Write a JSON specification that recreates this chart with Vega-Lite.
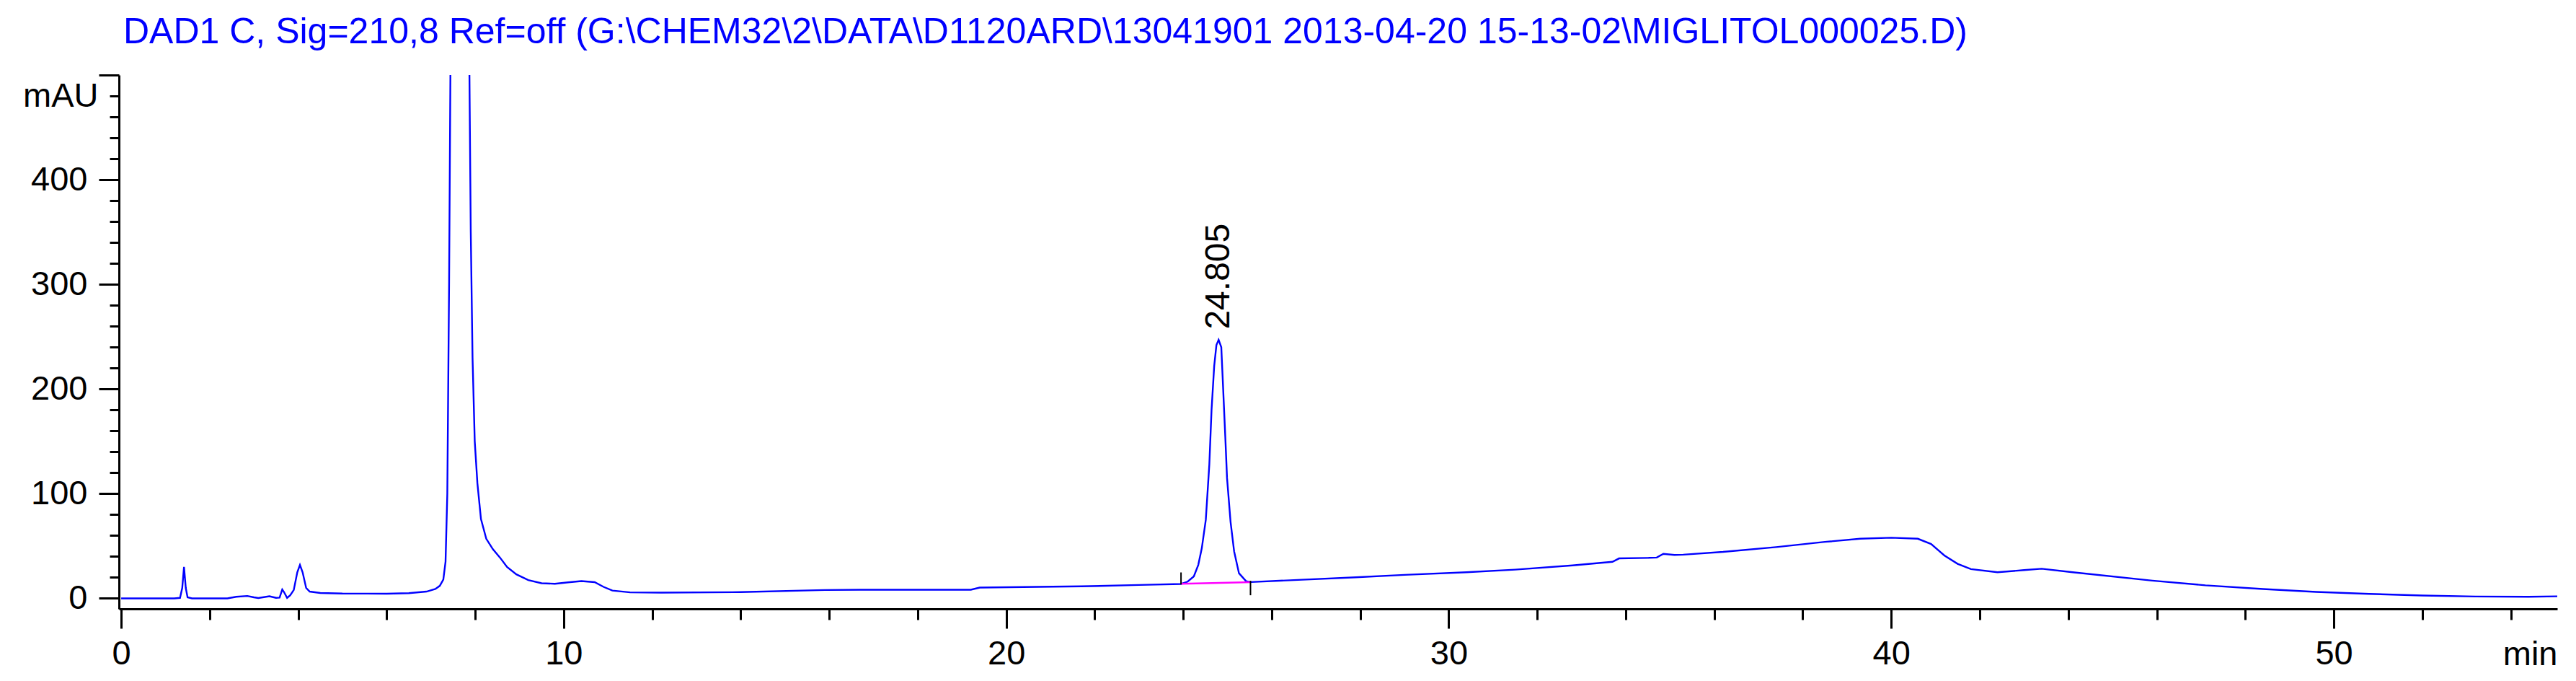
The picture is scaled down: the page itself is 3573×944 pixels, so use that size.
{
  "$schema": "https://vega.github.io/schema/vega-lite/v6.json",
  "width": 3382,
  "height": 740,
  "autosize": {"type": "none"},
  "padding": {"left": 165, "top": 104, "right": 26, "bottom": 100},
  "background": "white",
  "config": {"view": {"stroke": null}, "font": "Liberation Sans"},
  "title": {
    "text": "DAD1 C, Sig=210,8 Ref=off (G:\\CHEM32\\2\\DATA\\D1120ARD\\13041901 2013-04-20 15-13-02\\MIGLITOL000025.D)",
    "anchor": "start", "frame": "group", "dx": 6, "offset": 38, "dy": 68, "baseline": "alphabetic",
    "color": "#0000ff", "fontSize": 50, "fontWeight": "normal", "font": "Liberation Sans"
  },
  "datasets": {
    "trace": [
      {"t":0,"v":0},{"t":1.2,"v":0},{"t":1.33,"v":0.5},{"t":1.38,"v":10},{"t":1.42,"v":30},{"t":1.46,"v":10},{"t":1.5,"v":1},{"t":1.6,"v":0},
      {"t":2.4,"v":0},{"t":2.6,"v":1.5},{"t":2.85,"v":2.3},{"t":3.0,"v":1},{"t":3.1,"v":0.3},{"t":3.35,"v":2},{"t":3.5,"v":0.5},{"t":3.58,"v":0.8},
      {"t":3.64,"v":8.5},{"t":3.68,"v":6},{"t":3.75,"v":0.5},{"t":3.82,"v":3},{"t":3.9,"v":8},{"t":3.98,"v":25},{"t":4.04,"v":32},{"t":4.1,"v":25},
      {"t":4.18,"v":10},{"t":4.26,"v":6.5},{"t":4.5,"v":5.2},{"t":5.0,"v":4.6},{"t":6.0,"v":4.5},{"t":6.5,"v":5},{"t":6.9,"v":6.5},{"t":7.1,"v":9},
      {"t":7.2,"v":12},{"t":7.28,"v":18},{"t":7.33,"v":35},{"t":7.37,"v":100},{"t":7.41,"v":300},{"t":7.44,"v":500},{"t":7.48,"v":900},{"t":7.56,"v":1400},
      {"t":7.64,"v":1500},{"t":7.73,"v":1300},{"t":7.82,"v":800},{"t":7.87,"v":500},{"t":7.9,"v":350},{"t":7.94,"v":230},{"t":7.99,"v":150},{"t":8.05,"v":110},
      {"t":8.13,"v":76},{"t":8.25,"v":57},{"t":8.4,"v":47},{"t":8.56,"v":39},{"t":8.72,"v":30},{"t":8.93,"v":23},{"t":9.2,"v":17.5},{"t":9.5,"v":14.5},
      {"t":9.8,"v":14},{"t":10.1,"v":15.3},{"t":10.4,"v":16.5},{"t":10.7,"v":15.5},{"t":10.9,"v":11},{"t":11.1,"v":7.5},{"t":11.5,"v":5.8},{"t":12.2,"v":5.5},
      {"t":14.0,"v":6},{"t":15.9,"v":8},{"t":16.7,"v":8.3},{"t":19.2,"v":8.3},{"t":19.4,"v":10.3},{"t":21.7,"v":11.5},{"t":23.0,"v":12.8},{"t":23.95,"v":13.8},
      {"t":24.1,"v":16},{"t":24.24,"v":21},{"t":24.34,"v":32},{"t":24.42,"v":48},{"t":24.51,"v":75},{"t":24.59,"v":128},{"t":24.64,"v":180},{"t":24.7,"v":222},
      {"t":24.75,"v":242},{"t":24.8,"v":247},{"t":24.86,"v":240},{"t":24.89,"v":212},{"t":24.95,"v":155},{"t":24.99,"v":115},{"t":25.07,"v":73},{"t":25.15,"v":45},
      {"t":25.26,"v":24},{"t":25.42,"v":16.5},{"t":25.52,"v":15.6},{"t":26.5,"v":17.5},{"t":27.9,"v":20.2},{"t":29.0,"v":22.5},{"t":30.4,"v":25},{"t":31.5,"v":27.5},
      {"t":32.8,"v":31.5},{"t":33.7,"v":35},{"t":33.85,"v":38.2},{"t":34.5,"v":38.7},{"t":34.7,"v":39},{"t":34.85,"v":42.5},{"t":35.1,"v":41.5},{"t":35.3,"v":41.8},
      {"t":36.2,"v":44.4},{"t":37.4,"v":49},{"t":38.5,"v":54},{"t":39.3,"v":57},{"t":40.0,"v":58},{"t":40.6,"v":57},{"t":40.9,"v":52},{"t":41.2,"v":41},
      {"t":41.5,"v":33},{"t":41.8,"v":28},{"t":42.4,"v":25},{"t":43.0,"v":27},{"t":43.4,"v":28.3},{"t":44.1,"v":25},{"t":45.9,"v":17},{"t":47.1,"v":12.5},
      {"t":48.4,"v":9},{"t":49.6,"v":6.2},{"t":50.8,"v":4.3},{"t":52.0,"v":2.8},{"t":53.2,"v":1.8},{"t":54.4,"v":1.5},{"t":55.05,"v":2}
    ],
    "baseline": [{"t":23.95,"v":13.9},{"t":25.52,"v":15.5}],
    "marks": [{"t":23.95,"v":13.3,"v2":24.8},{"t":25.52,"v":3,"v2":16.8}],
    "peaks": [{"t":24.805,"v":257,"label":"24.805"}]
  },
  "encoding": {
    "x": {
      "field": "t", "type": "quantitative",
      "scale": {"domain": [-0.05, 55.05], "nice": false, "zero": false},
      "axis": {
        "values": [0,2,4,6,8,10,12,14,16,18,20,22,24,26,28,30,32,34,36,38,40,42,44,46,48,50,52,54],
        "labelExpr": "datum.value % 10 === 0 ? datum.label : ''",
        "tickSize": {"condition": {"test": "datum.value % 10 === 0", "value": 27}, "value": 15},
        "tickWidth": 3, "tickColor": "black", "domainColor": "black", "domainWidth": 3,
        "labelFontSize": 47, "labelColor": "black", "labelPadding": 12, "labelFont": "Liberation Sans",
        "labelFlush": false, "labelOverlap": false, "grid": false,
        "title": "min", "titleAnchor": "end", "titleAlign": "right", "titleBaseline": "top", "titleY": 40,
        "titleFontSize": 47, "titleFontWeight": "normal", "titleColor": "black", "titleFont": "Liberation Sans"
      }
    },
    "y": {
      "field": "v", "type": "quantitative",
      "scale": {"domain": [-10, 500], "nice": false, "zero": false},
      "axis": {
        "values": [0,20,40,60,80,100,120,140,160,180,200,220,240,260,280,300,320,340,360,380,400,420,440,460,480,500],
        "labelExpr": "datum.value === 480 ? 'mAU' : (datum.value % 100 === 0 && datum.value < 500 ? datum.label : '')",
        "tickSize": {"condition": {"test": "datum.value % 100 === 0", "value": 28}, "value": 13},
        "tickWidth": 3, "tickColor": "black", "domainColor": "black", "domainWidth": 3,
        "labelFontSize": 47, "labelColor": "black", "labelPadding": 16, "labelFont": "Liberation Sans",
        "labelOverlap": false, "labelFlush": false, "grid": false, "title": null
      }
    }
  },
  "layer": [
    {
      "data": {"name": "trace"},
      "mark": {"type": "line", "color": "#0000ff", "strokeWidth": 2.4, "clip": true}
    },
    {
      "data": {"name": "baseline"},
      "mark": {"type": "line", "color": "#ff00ff", "strokeWidth": 2.5}
    },
    {
      "data": {"name": "marks"},
      "mark": {"type": "rule", "color": "black", "strokeWidth": 2},
      "encoding": {"y2": {"field": "v2"}}
    },
    {
      "data": {"name": "peaks"},
      "mark": {"type": "text", "angle": 270, "align": "left", "baseline": "middle", "fontSize": 48, "color": "black", "font": "Liberation Sans"},
      "encoding": {"text": {"field": "label"}}
    }
  ]
}
